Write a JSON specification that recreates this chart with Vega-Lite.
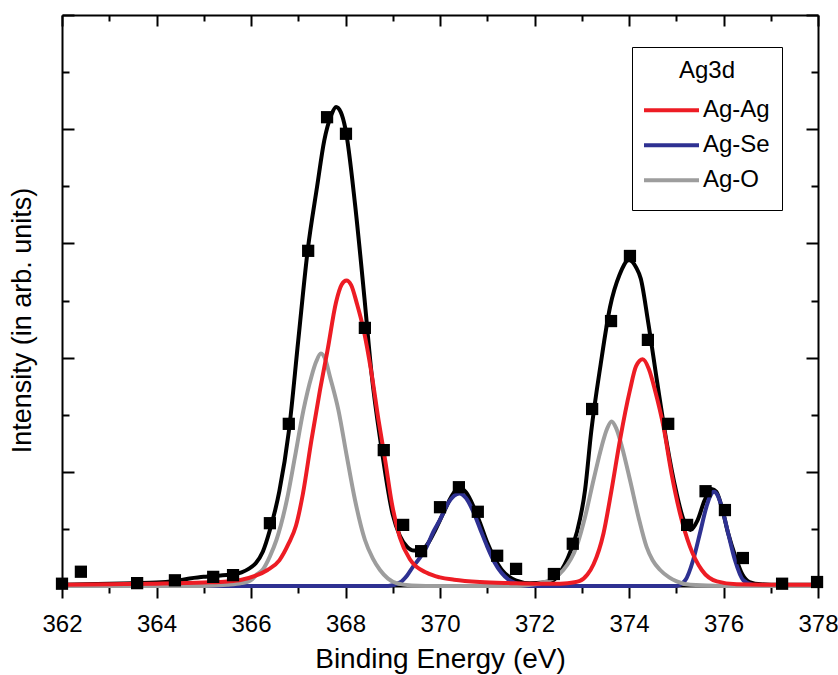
{
  "$schema": "https://vega.github.io/schema/vega-lite/v6.json",
  "width": 756,
  "height": 571,
  "autosize": "none",
  "padding": {"left": 62, "top": 15, "right": 20, "bottom": 89},
  "background": "white",
  "config": {"view": {"stroke": null}, "font": "Liberation Sans"},
  "datasets": {
    "total": [
      {"x": 362.0, "y": 0.02}, {"x": 362.5, "y": 0.03}, {"x": 363.0, "y": 0.04}, {"x": 363.5, "y": 0.05},
      {"x": 364.0, "y": 0.06}, {"x": 364.4, "y": 0.09}, {"x": 364.7, "y": 0.13}, {"x": 365.0, "y": 0.16},
      {"x": 365.2, "y": 0.17}, {"x": 365.4, "y": 0.19}, {"x": 365.6, "y": 0.2}, {"x": 365.8, "y": 0.24},
      {"x": 365.95, "y": 0.3}, {"x": 366.1, "y": 0.4}, {"x": 366.25, "y": 0.6}, {"x": 366.4, "y": 0.98},
      {"x": 366.6, "y": 1.66}, {"x": 366.8, "y": 2.7}, {"x": 367.0, "y": 4.3}, {"x": 367.2, "y": 5.88},
      {"x": 367.4, "y": 7.0}, {"x": 367.55, "y": 7.8}, {"x": 367.7, "y": 8.25}, {"x": 367.8, "y": 8.39},
      {"x": 367.9, "y": 8.3}, {"x": 368.0, "y": 8.0}, {"x": 368.2, "y": 6.7}, {"x": 368.4, "y": 5.05},
      {"x": 368.55, "y": 3.73}, {"x": 368.75, "y": 2.48}, {"x": 369.0, "y": 1.25}, {"x": 369.15, "y": 0.88},
      {"x": 369.3, "y": 0.69}, {"x": 369.45, "y": 0.62}, {"x": 369.6, "y": 0.62}, {"x": 369.75, "y": 0.75},
      {"x": 369.9, "y": 0.98}, {"x": 370.1, "y": 1.33}, {"x": 370.25, "y": 1.58}, {"x": 370.4, "y": 1.72},
      {"x": 370.55, "y": 1.64}, {"x": 370.7, "y": 1.41}, {"x": 370.85, "y": 1.1}, {"x": 371.0, "y": 0.76},
      {"x": 371.15, "y": 0.49}, {"x": 371.3, "y": 0.29}, {"x": 371.45, "y": 0.17}, {"x": 371.6, "y": 0.1},
      {"x": 371.9, "y": 0.05}, {"x": 372.2, "y": 0.06}, {"x": 372.4, "y": 0.1}, {"x": 372.55, "y": 0.25},
      {"x": 372.7, "y": 0.48}, {"x": 372.9, "y": 0.95}, {"x": 373.07, "y": 1.68}, {"x": 373.2, "y": 2.7},
      {"x": 373.4, "y": 3.88}, {"x": 373.6, "y": 4.89}, {"x": 373.8, "y": 5.45}, {"x": 374.0, "y": 5.71},
      {"x": 374.15, "y": 5.58}, {"x": 374.25, "y": 5.38}, {"x": 374.4, "y": 4.65}, {"x": 374.6, "y": 3.55},
      {"x": 374.8, "y": 2.5}, {"x": 375.0, "y": 1.65}, {"x": 375.15, "y": 1.17}, {"x": 375.3, "y": 0.98},
      {"x": 375.45, "y": 1.15}, {"x": 375.6, "y": 1.5}, {"x": 375.75, "y": 1.7}, {"x": 375.85, "y": 1.65},
      {"x": 375.95, "y": 1.42}, {"x": 376.1, "y": 0.92}, {"x": 376.25, "y": 0.52}, {"x": 376.4, "y": 0.2},
      {"x": 376.55, "y": 0.07}, {"x": 376.8, "y": 0.03}, {"x": 377.2, "y": 0.02}, {"x": 378.0, "y": 0.02}
    ],
    "comp": [
      {"s": "Ag-Se", "x": 362.0, "y": 0.0}, {"s": "Ag-Se", "x": 368.9, "y": 0.0}, {"s": "Ag-Se", "x": 369.15, "y": 0.06},
      {"s": "Ag-Se", "x": 369.3, "y": 0.18}, {"s": "Ag-Se", "x": 369.43, "y": 0.34}, {"s": "Ag-Se", "x": 369.58, "y": 0.5},
      {"s": "Ag-Se", "x": 369.72, "y": 0.69}, {"s": "Ag-Se", "x": 369.86, "y": 0.95}, {"s": "Ag-Se", "x": 370.0, "y": 1.16},
      {"s": "Ag-Se", "x": 370.15, "y": 1.42}, {"s": "Ag-Se", "x": 370.3, "y": 1.58}, {"s": "Ag-Se", "x": 370.41, "y": 1.62},
      {"s": "Ag-Se", "x": 370.55, "y": 1.54}, {"s": "Ag-Se", "x": 370.7, "y": 1.31}, {"s": "Ag-Se", "x": 370.85, "y": 1.0},
      {"s": "Ag-Se", "x": 371.0, "y": 0.69}, {"s": "Ag-Se", "x": 371.15, "y": 0.42}, {"s": "Ag-Se", "x": 371.3, "y": 0.23},
      {"s": "Ag-Se", "x": 371.45, "y": 0.11}, {"s": "Ag-Se", "x": 371.6, "y": 0.05}, {"s": "Ag-Se", "x": 371.8, "y": 0.0},
      {"s": "Ag-Se", "x": 375.0, "y": 0.0}, {"s": "Ag-Se", "x": 375.19, "y": 0.1}, {"s": "Ag-Se", "x": 375.36, "y": 0.46},
      {"s": "Ag-Se", "x": 375.5, "y": 0.92}, {"s": "Ag-Se", "x": 375.64, "y": 1.39}, {"s": "Ag-Se", "x": 375.72, "y": 1.58},
      {"s": "Ag-Se", "x": 375.8, "y": 1.65}, {"s": "Ag-Se", "x": 375.88, "y": 1.58}, {"s": "Ag-Se", "x": 375.96, "y": 1.39},
      {"s": "Ag-Se", "x": 376.1, "y": 0.92}, {"s": "Ag-Se", "x": 376.24, "y": 0.46}, {"s": "Ag-Se", "x": 376.42, "y": 0.1},
      {"s": "Ag-Se", "x": 376.62, "y": 0.02}, {"s": "Ag-Se", "x": 376.8, "y": 0.0}, {"s": "Ag-Se", "x": 378.0, "y": 0.0},

      {"s": "Ag-O", "x": 362.0, "y": 0.0}, {"s": "Ag-O", "x": 365.0, "y": 0.0}, {"s": "Ag-O", "x": 365.5, "y": 0.02},
      {"s": "Ag-O", "x": 365.8, "y": 0.05}, {"s": "Ag-O", "x": 365.98, "y": 0.09}, {"s": "Ag-O", "x": 366.12, "y": 0.2},
      {"s": "Ag-O", "x": 366.26, "y": 0.3}, {"s": "Ag-O", "x": 366.4, "y": 0.52}, {"s": "Ag-O", "x": 366.54, "y": 0.81},
      {"s": "Ag-O", "x": 366.76, "y": 1.51}, {"s": "Ag-O", "x": 366.93, "y": 2.26}, {"s": "Ag-O", "x": 367.11, "y": 3.08},
      {"s": "Ag-O", "x": 367.28, "y": 3.67}, {"s": "Ag-O", "x": 367.38, "y": 3.93}, {"s": "Ag-O", "x": 367.48, "y": 4.07},
      {"s": "Ag-O", "x": 367.58, "y": 3.95}, {"s": "Ag-O", "x": 367.67, "y": 3.67}, {"s": "Ag-O", "x": 367.85, "y": 3.08},
      {"s": "Ag-O", "x": 368.03, "y": 2.26}, {"s": "Ag-O", "x": 368.2, "y": 1.51}, {"s": "Ag-O", "x": 368.41, "y": 0.81},
      {"s": "Ag-O", "x": 368.58, "y": 0.48}, {"s": "Ag-O", "x": 368.73, "y": 0.28}, {"s": "Ag-O", "x": 368.9, "y": 0.13},
      {"s": "Ag-O", "x": 369.08, "y": 0.05}, {"s": "Ag-O", "x": 369.4, "y": 0.01}, {"s": "Ag-O", "x": 370.0, "y": 0.0},
      {"s": "Ag-O", "x": 371.6, "y": 0.0}, {"s": "Ag-O", "x": 372.0, "y": 0.03}, {"s": "Ag-O", "x": 372.26, "y": 0.08},
      {"s": "Ag-O", "x": 372.45, "y": 0.16}, {"s": "Ag-O", "x": 372.61, "y": 0.28}, {"s": "Ag-O", "x": 372.89, "y": 0.69},
      {"s": "Ag-O", "x": 373.07, "y": 1.21}, {"s": "Ag-O", "x": 373.25, "y": 1.86}, {"s": "Ag-O", "x": 373.42, "y": 2.44},
      {"s": "Ag-O", "x": 373.53, "y": 2.74}, {"s": "Ag-O", "x": 373.63, "y": 2.88}, {"s": "Ag-O", "x": 373.73, "y": 2.76},
      {"s": "Ag-O", "x": 373.85, "y": 2.44}, {"s": "Ag-O", "x": 374.02, "y": 1.86}, {"s": "Ag-O", "x": 374.2, "y": 1.21},
      {"s": "Ag-O", "x": 374.37, "y": 0.69}, {"s": "Ag-O", "x": 374.5, "y": 0.45}, {"s": "Ag-O", "x": 374.66, "y": 0.28},
      {"s": "Ag-O", "x": 374.85, "y": 0.15}, {"s": "Ag-O", "x": 375.01, "y": 0.08}, {"s": "Ag-O", "x": 375.3, "y": 0.02},
      {"s": "Ag-O", "x": 376.0, "y": 0.0}, {"s": "Ag-O", "x": 378.0, "y": 0.0},

      {"s": "Ag-Ag", "x": 362.0, "y": 0.02}, {"s": "Ag-Ag", "x": 363.0, "y": 0.03}, {"s": "Ag-Ag", "x": 364.0, "y": 0.04},
      {"s": "Ag-Ag", "x": 365.0, "y": 0.06}, {"s": "Ag-Ag", "x": 365.5, "y": 0.08}, {"s": "Ag-Ag", "x": 365.8, "y": 0.11},
      {"s": "Ag-Ag", "x": 366.1, "y": 0.18}, {"s": "Ag-Ag", "x": 366.35, "y": 0.28}, {"s": "Ag-Ag", "x": 366.6, "y": 0.45},
      {"s": "Ag-Ag", "x": 366.8, "y": 0.75}, {"s": "Ag-Ag", "x": 366.95, "y": 1.05}, {"s": "Ag-Ag", "x": 367.1, "y": 1.62},
      {"s": "Ag-Ag", "x": 367.28, "y": 2.56}, {"s": "Ag-Ag", "x": 367.46, "y": 3.43}, {"s": "Ag-Ag", "x": 367.62, "y": 4.13},
      {"s": "Ag-Ag", "x": 367.8, "y": 4.97}, {"s": "Ag-Ag", "x": 367.92, "y": 5.28}, {"s": "Ag-Ag", "x": 368.02, "y": 5.35},
      {"s": "Ag-Ag", "x": 368.12, "y": 5.27}, {"s": "Ag-Ag", "x": 368.24, "y": 4.95}, {"s": "Ag-Ag", "x": 368.38, "y": 4.5},
      {"s": "Ag-Ag", "x": 368.55, "y": 3.73}, {"s": "Ag-Ag", "x": 368.7, "y": 2.9}, {"s": "Ag-Ag", "x": 368.84, "y": 2.2},
      {"s": "Ag-Ag", "x": 368.98, "y": 1.45}, {"s": "Ag-Ag", "x": 369.15, "y": 0.85}, {"s": "Ag-Ag", "x": 369.37, "y": 0.46},
      {"s": "Ag-Ag", "x": 369.72, "y": 0.23}, {"s": "Ag-Ag", "x": 370.0, "y": 0.15}, {"s": "Ag-Ag", "x": 370.3, "y": 0.11},
      {"s": "Ag-Ag", "x": 370.85, "y": 0.07}, {"s": "Ag-Ag", "x": 371.5, "y": 0.05}, {"s": "Ag-Ag", "x": 372.0, "y": 0.04},
      {"s": "Ag-Ag", "x": 372.4, "y": 0.04}, {"s": "Ag-Ag", "x": 372.7, "y": 0.05}, {"s": "Ag-Ag", "x": 372.96, "y": 0.09},
      {"s": "Ag-Ag", "x": 373.12, "y": 0.2}, {"s": "Ag-Ag", "x": 373.25, "y": 0.38}, {"s": "Ag-Ag", "x": 373.46, "y": 0.92},
      {"s": "Ag-Ag", "x": 373.63, "y": 1.68}, {"s": "Ag-Ag", "x": 373.81, "y": 2.56}, {"s": "Ag-Ag", "x": 374.02, "y": 3.43},
      {"s": "Ag-Ag", "x": 374.15, "y": 3.85}, {"s": "Ag-Ag", "x": 374.29, "y": 3.97}, {"s": "Ag-Ag", "x": 374.42, "y": 3.8},
      {"s": "Ag-Ag", "x": 374.55, "y": 3.43}, {"s": "Ag-Ag", "x": 374.73, "y": 2.79}, {"s": "Ag-Ag", "x": 374.9, "y": 1.97},
      {"s": "Ag-Ag", "x": 375.08, "y": 1.27}, {"s": "Ag-Ag", "x": 375.29, "y": 0.69}, {"s": "Ag-Ag", "x": 375.54, "y": 0.28},
      {"s": "Ag-Ag", "x": 375.86, "y": 0.08}, {"s": "Ag-Ag", "x": 376.28, "y": 0.03}, {"s": "Ag-Ag", "x": 377.0, "y": 0.02},
      {"s": "Ag-Ag", "x": 378.0, "y": 0.02}
    ],
    "pts": [
      {"x": 362.0, "y": 0.04}, {"x": 362.4, "y": 0.25}, {"x": 363.59, "y": 0.05}, {"x": 364.39, "y": 0.1},
      {"x": 365.2, "y": 0.16}, {"x": 365.62, "y": 0.19}, {"x": 366.4, "y": 1.1}, {"x": 366.8, "y": 2.84},
      {"x": 367.21, "y": 5.87}, {"x": 367.61, "y": 8.21}, {"x": 368.01, "y": 7.92}, {"x": 368.41, "y": 4.52},
      {"x": 368.81, "y": 2.38}, {"x": 369.22, "y": 1.07}, {"x": 369.6, "y": 0.61}, {"x": 370.0, "y": 1.38},
      {"x": 370.4, "y": 1.73}, {"x": 370.8, "y": 1.3}, {"x": 371.21, "y": 0.53}, {"x": 371.61, "y": 0.3},
      {"x": 372.41, "y": 0.21}, {"x": 372.81, "y": 0.74}, {"x": 373.22, "y": 3.1}, {"x": 373.62, "y": 4.64},
      {"x": 374.02, "y": 5.78}, {"x": 374.4, "y": 4.31}, {"x": 374.83, "y": 2.84}, {"x": 375.23, "y": 1.07},
      {"x": 375.62, "y": 1.66}, {"x": 376.03, "y": 1.33}, {"x": 376.41, "y": 0.49}, {"x": 377.24, "y": 0.04},
      {"x": 377.98, "y": 0.07}
    ]
  },
  "layer": [
    {
      "data": {"name": "total"},
      "mark": {"type": "line", "color": "black", "strokeWidth": 4, "interpolate": "monotone"},
      "encoding": {
        "x": {"field": "x", "type": "quantitative", "scale": {"domain": [362, 378], "nice": false, "zero": false},
          "axis": {"orient": "bottom", "values": [362,363,364,365,366,367,368,369,370,371,372,373,374,375,376,377,378],
            "tickSize": {"condition": {"test": "datum.value % 2 !== 0", "value": 7}, "value": 12},
            "tickColor": "black", "tickWidth": 2, "domainColor": "black", "domainWidth": 2, "grid": false,
            "labelExpr": "datum.value % 2 === 0 ? datum.label : ''", "labelOverlap": false, "labelFlush": false,
            "labelFontSize": 24, "labelColor": "black", "labelFont": "Liberation Sans", "labelPadding": 14,
            "title": "Binding Energy (eV)", "titleFontSize": 28, "titleFontWeight": "normal", "titleColor": "black",
            "titleFont": "Liberation Sans", "titleBaseline": "alphabetic", "titleY": 81}},
        "y": {"field": "y", "type": "quantitative", "scale": {"domain": [0, 10], "nice": false},
          "axis": {"orient": "left", "values": [0,1,2,3,4,5,6,7,8,9,10],
            "tickSize": {"condition": {"test": "datum.value % 2 !== 0", "value": -7}, "value": -12},
            "tickColor": "black", "tickWidth": 2, "domainColor": "black", "domainWidth": 2, "grid": false,
            "labels": false, "title": "Intensity (in arb. units)", "titleFontSize": 27, "titleFontWeight": "normal",
            "titleColor": "black", "titleFont": "Liberation Sans", "titleBaseline": "alphabetic", "titleX": -32, "titleY": 305}}
      }
    },
    {
      "data": {"name": "comp"},
      "mark": {"type": "line", "strokeWidth": 4, "interpolate": "monotone"},
      "encoding": {
        "x": {"field": "x", "type": "quantitative",
          "axis": {"orient": "top", "values": [362,363,364,365,366,367,368,369,370,371,372,373,374,375,376,377,378],
            "tickSize": {"condition": {"test": "datum.value % 2 !== 0", "value": -6}, "value": -11},
            "tickColor": "black", "tickWidth": 2, "domainColor": "black", "domainWidth": 2, "grid": false,
            "labels": false, "title": null}},
        "y": {"field": "y", "type": "quantitative",
          "axis": {"orient": "right", "values": [0,1,2,3,4,5,6,7,8,9,10],
            "tickSize": {"condition": {"test": "datum.value % 2 !== 0", "value": -7}, "value": -12},
            "tickColor": "black", "tickWidth": 2, "domainColor": "black", "domainWidth": 2, "grid": false,
            "labels": false, "title": null}},
        "color": {"field": "s", "type": "nominal",
          "scale": {"domain": ["Ag-Ag", "Ag-Se", "Ag-O"], "range": ["#ED1C24", "#2E3192", "#9D9D9D"]},
          "legend": {"orient": "none", "legendX": 570, "legendY": 32, "title": "Ag3d",
            "titleFontSize": 24, "titleFontWeight": "normal", "titleColor": "black", "titleFont": "Liberation Sans",
            "titleAnchor": "middle", "titlePadding": 10,
            "labelFontSize": 24, "labelColor": "black", "labelFont": "Liberation Sans", "labelOffset": 2,
            "symbolType": "stroke", "symbolSize": 4225, "symbolStrokeWidth": 4, "symbolOffset": -12,
            "clipHeight": 34.5,
            "strokeColor": "black", "padding": 12, "rowPadding": 0}}
      }
    },
    {
      "data": {"name": "pts"},
      "mark": {"type": "square", "size": 150, "color": "black", "opacity": 1},
      "encoding": {
        "x": {"field": "x", "type": "quantitative", "axis": null},
        "y": {"field": "y", "type": "quantitative", "axis": null}
      }
    }
  ],
  "resolve": {"axis": {"x": "independent", "y": "independent"}}
}
